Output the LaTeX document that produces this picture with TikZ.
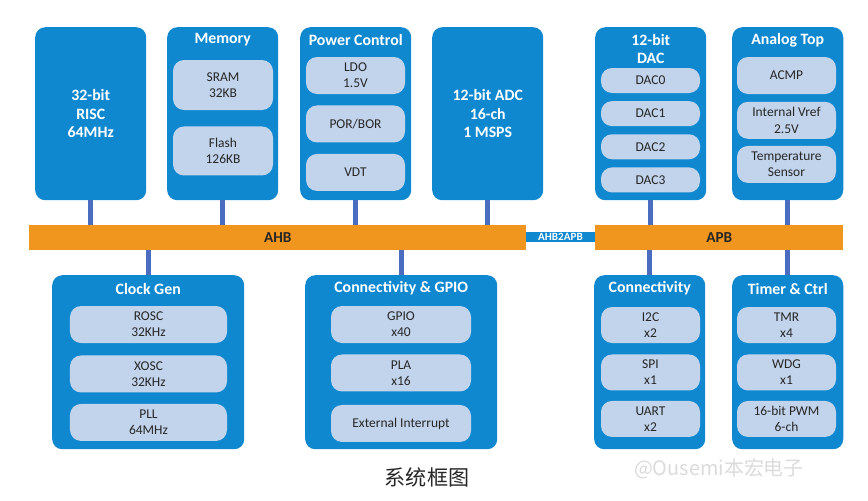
\documentclass[tikz,border=0pt]{standalone}
\usepackage{fontspec}
\setmainfont{Carlito}
\newfontfamily\cjk{Noto Sans CJK SC}
\usetikzlibrary{calc,positioning}
\definecolor{ChipBlue}{HTML}{1088D0}
\definecolor{CellBlue}{HTML}{C2D4EC}
\definecolor{BusOrange}{HTML}{F0961E}
\definecolor{LinkBlue}{HTML}{4A6DC0}
\definecolor{InkGray}{HTML}{262626}

\begin{document}
\begin{tikzpicture}[x=0.03cm,y=-0.03cm,
    block/.style={fill=ChipBlue,rounded corners=0.3cm,inner sep=0pt,
                  minimum width=3.33cm,minimum height=5.19cm,anchor=north west,
                  text=white,align=center,font=\fontsize{13.5}{16}\selectfont\bfseries},
    wide/.style={block,minimum width=5.76cm,minimum height=5.22cm},
    head/.style={text=white,align=center,inner sep=0pt,
                 font=\fontsize{13.5}{15.5}\selectfont\bfseries},
    cell/.style={fill=CellBlue,rounded corners=0.33cm,inner sep=0pt,
                 minimum width=2.97cm,minimum height=1.11cm,align=center,
                 text=InkGray,font=\fontsize{11.5}{13.8}\selectfont},
    bus/.style={fill=BusOrange,inner sep=0pt,minimum height=0.75cm,
                anchor=north west,text=InkGray,font=\fontsize{13}{15}\selectfont\bfseries},
    link/.style={LinkBlue,line width=0.15cm}]
    \useasboundingbox (0,0) rectangle (868,500);

    % system buses
    \node[bus,minimum width=14.91cm] (ahb) at (29,225) {AHB};
    \node[bus,minimum width=7.44cm] (apb) at (595,225) {APB};
    \node[fill=ChipBlue,text=white,inner sep=0pt,minimum width=2.07cm,minimum height=0.3cm,
          font=\fontsize{9.5}{10}\selectfont\bfseries] (bridge) at (560.5,237) {AHB2APB};

    % top row
    \node[block] (risc) at (35,27) {32-bit\\RISC\\64MHz};
    \node[block] (mem) at (167,27) {};
    \node[block] (pwr) at (300,27) {};
    \node[block] (adc) at (432,27) {12-bit ADC\\16-ch\\1 MSPS};
    \node[block] (dac) at (595,27) {};
    \node[block] (ana) at (732,27) {};

    \node[head] (memt) at ([yshift=-0.39cm]mem.north) {Memory};
    \node[cell,minimum width=3cm,minimum height=1.5cm] (sram) at (223,85) {SRAM\\32KB};
    \node[cell,minimum width=3cm,minimum height=1.47cm,below=0.48cm of sram] (flash) {Flash\\126KB};

    \node[head] (pwrt) at ([yshift=-0.39cm]pwr.north) {Power Control};
    \node[cell] (ldo) at (355.5,75.5) {LDO\\1.5V};
    \node[cell,below=0.33cm of ldo] (por) {POR/BOR};
    \node[cell,below=0.33cm of por] (vdt) {VDT};

    \node[head] (dact) at ([yshift=-0.66cm]dac.north) {12-bit\\DAC};
    \node[cell,minimum height=0.75cm] (dac0) at (650.5,80.5) {DAC0};
    \node[cell,minimum height=0.75cm,below=0.23cm of dac0] (dac1) {DAC1};
    \node[cell,minimum height=0.75cm,below=0.23cm of dac1] (dac2) {DAC2};
    \node[cell,minimum height=0.75cm,below=0.23cm of dac2] (dac3) {DAC3};

    \node[head] (anat) at ([yshift=-0.39cm]ana.north) {Analog Top};
    \node[cell] (acmp) at (786.5,75.5) {ACMP};
    \node[cell,below=0.22cm of acmp] (vref) {Internal Vref\\2.5V};
    \node[cell,below=0.2cm of vref] (temp) {Temperature\\Sensor};

    % bottom row
    \node[wide] (clk) at (52,275) {};
    \node[wide] (gpio) at (305,275) {};
    \node[block,minimum height=5.22cm] (conn) at (594,275) {};
    \node[block,minimum height=5.22cm] (tmr) at (732,275) {};

    \node[head] (clkt) at ([yshift=-0.41cm]clk.north) {Clock Gen};
    \node[cell,minimum width=4.71cm] (rosc) at (148.5,324.5) {ROSC\\32KHz};
    \node[cell,minimum width=4.71cm,below=0.36cm of rosc] (xosc) {XOSC\\32KHz};
    \node[cell,minimum width=4.71cm,below=0.33cm of xosc] (pll) {PLL\\64MHz};

    \node[head] (gpiot) at ([yshift=-0.41cm]gpio.north) {Connectivity \& GPIO};
    \node[cell,minimum width=4.2cm] (gpioc) at (401,324.5) {GPIO\\x40};
    \node[cell,minimum width=4.2cm,below=0.33cm of gpioc] (pla) {PLA\\x16};
    \node[cell,minimum width=4.2cm,below=0.39cm of pla] (extint) {External Interrupt};

    \node[head] (connt) at ([yshift=-0.41cm]conn.north) {Connectivity};
    \node[cell,minimum height=1.08cm] (i2c) at (650.5,325) {I2C\\x2};
    \node[cell,minimum height=1.08cm,below=0.33cm of i2c] (spi) {SPI\\x1};
    \node[cell,minimum height=1.08cm,below=0.3cm of spi] (uart) {UART\\x2};

    \node[head] (tmrt) at ([yshift=-0.41cm]tmr.north) {Timer \& Ctrl};
    \node[cell,minimum height=1.08cm] (tmrc) at (786.5,325) {TMR\\x4};
    \node[cell,minimum height=1.08cm,below=0.33cm of tmrc] (wdg) {WDG\\x1};
    \node[cell,minimum height=1.08cm,below=0.3cm of wdg] (pwm) {16-bit PWM\\6-ch};

    % bus taps
    \foreach \b in {risc,mem,pwr,adc}
      \draw[link] (\b.south) -- (\b.south |- ahb.north);
    \foreach \b in {dac,ana}
      \draw[link] (\b.south) -- (\b.south |- apb.north);
    \foreach \b in {clk,gpio}
      \draw[link] (\b.north) -- (\b.north |- ahb.south);
    \foreach \b in {conn,tmr}
      \draw[link] (\b.north) -- (\b.north |- apb.south);

    \node[font=\cjk\fontsize{18}{20}\selectfont,text=InkGray] (caption) at (427,477) {系统框图};
    \node[font=\cjk\fontsize{17}{20}\selectfont,text=black!14,anchor=west] (mark) at (630,469) {@Ousemi本宏电子};
  \end{tikzpicture}
\end{document}
